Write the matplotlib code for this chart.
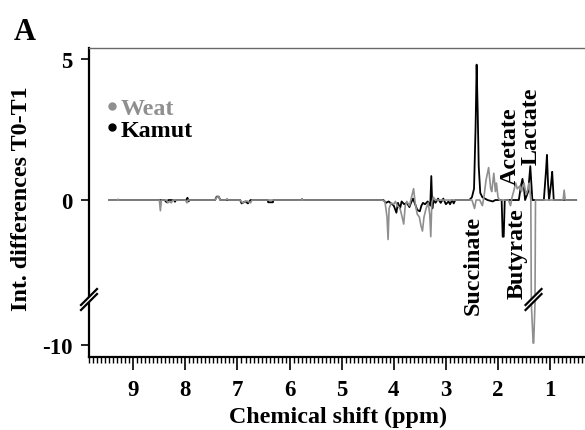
import numpy as np
import matplotlib
matplotlib.use('Agg')
from matplotlib import pyplot as plt
from matplotlib.patches import Polygon
from matplotlib.lines import Line2D
from matplotlib.ticker import FixedLocator, MultipleLocator

plt.rcParams['font.family'] = ['Liberation Serif', 'DejaVu Serif']
plt.rcParams['font.weight'] = 'bold'
plt.rcParams['axes.unicode_minus'] = False

# Kamut (black) spectrum vertices: ppm, intensity
kamut_ppm = [9.46, 8.40, 8.36, 8.33, 8.22, 8.20, 8.18, 7.98, 7.96, 7.94, 7.92, 7.43, 7.40, 7.36, 7.33,
             6.95, 6.92, 6.85, 6.80, 6.75, 6.42, 6.41, 6.32, 6.31, 5.77, 5.76, 5.75,
             4.20, 4.15, 4.10, 4.05, 4.00, 3.95, 3.92, 3.88, 3.85, 3.80, 3.75, 3.70, 3.67, 3.63, 3.60,
             3.55, 3.50, 3.47, 3.44, 3.40, 3.35, 3.30, 3.28, 3.26, 3.24, 3.20, 3.15, 3.10, 3.05, 3.00,
             2.95, 2.92, 2.88, 2.85, 2.82,
             2.55, 2.50, 2.46, 2.43, 2.41, 2.39, 2.37, 2.34, 2.30, 2.25, 2.20, 2.10, 2.05,
             1.93, 1.91, 1.89, 1.87,
             1.60, 1.56, 1.53, 1.50, 1.48, 1.42, 1.38, 1.36, 1.34,
             1.12, 1.08, 1.06, 1.04, 1.02, 0.98, 0.96, 0.93, 0.50]
kamut_int = [0, 0, -0.08, 0, 0, -0.06, 0, 0, 0.08, -0.05, 0, 0, 0.12, 0.12, 0,
             0, -0.12, -0.05, -0.12, 0, 0, -0.08, -0.08, 0, 0, 0.03, 0,
             0, -0.1, -0.05, -0.12, -0.2, -0.45, -0.1, -0.3, -0.05, -0.15, -0.1, -0.25, -0.1, 0.05, -0.1,
             -0.35, -0.4, -0.2, -0.1, -0.15, -0.05, -0.2, 0.85, -0.3, 0.0, -0.1, 0.05, -0.1, 0.05, -0.15,
             -0.05, -0.15, 0.0, -0.12, 0,
             0, 0.1, 0.4, 2.6, 4.8, 3.2, 1.2, 0.25, 0.1, 0.05, 0, -0.05, 0,
             0, -1.3, -1.3, 0,
             0, 0.5, 0.75, 0.4, 0, 0.3, 1.2, 0.6, 0,
             0, 1.0, 1.6, 0.6, 0, 0.6, 1.0, 0, 0]

# Weat (grey) spectrum vertices
weat_ppm = [9.46, 9.30, 9.29, 9.28, 8.50, 8.48, 8.46, 8.36, 8.34, 8.30, 8.27, 8.24, 8.00, 7.97, 7.95,
            7.43, 7.40, 7.36, 7.33, 7.22, 7.20, 7.18, 6.95, 6.90, 6.82, 6.75, 6.72, 5.77, 5.76, 5.75,
            4.22, 4.17, 4.13, 4.11, 4.09, 4.05, 4.00, 3.97, 3.93, 3.88, 3.84, 3.81, 3.78, 3.75, 3.70,
            3.66, 3.62, 3.59, 3.55, 3.51, 3.48, 3.45, 3.42, 3.38, 3.34, 3.31, 3.29, 3.27, 3.24, 3.20,
            2.50, 2.45, 2.42, 2.35, 2.30, 2.27, 2.23, 2.18, 2.14, 2.12, 2.08, 2.05, 2.03, 2.00, 1.97,
            1.80, 1.76, 1.73, 1.70, 1.66, 1.63, 1.58, 1.55, 1.50, 1.46, 1.42, 1.40, 1.38,
            1.37, 1.36, 1.325, 1.315, 1.29, 1.28, 1.25, 0.75, 0.73, 0.71, 0.50]
weat_int = [0, 0, 0.03, 0, 0, -0.38, 0, 0, -0.1, -0.05, -0.1, 0, 0, -0.1, 0,
            0, 0.1, 0.12, 0, 0, 0.05, 0, 0, -0.1, -0.03, -0.1, 0, 0, 0.05, 0,
            0, -0.05, -0.6, -1.4, -0.3, -0.1, -0.15, -0.05, -0.2, -0.3, -0.6, -0.85, -0.2, -0.05, -0.2,
            0.1, 0.4, -0.1, -0.5, -0.6, -0.9, -1.1, -0.6, -0.3, -0.1, -0.5, -1.3, -0.1, 0.1, 0,
            0, -0.3, 0, 0, -0.2, 0.1, 0.7, 1.15, 0.4, 0.3, 0.95, 0.3, 0.6, 0.1, 0,
            0, -0.2, 0.1, 0.3, 0.6, 0.4, 0.5, 0.3, 0.6, 0.2, 0.4, 0.6, 0.2,
            0, -3.8, -9.7, -9.7, -3.8, 0, 0, 0, 0.35, 0, 0]

labels = ['Succinate', 'Butyrate', 'Acetate', 'Lactate']
label_ppm = [2.47, 1.635, 1.77, 1.365]
label_y = [-2.27, -1.88, 1.95, 2.66]

# broken y axis: values below B are compressed by K
B, K = -3.65, 0.235


def fwd(y):
    y = np.asarray(y, dtype=float)
    return np.where(y >= B, y, B + (y - B) * K)


def inv(y):
    y = np.asarray(y, dtype=float)
    return np.where(y >= B, y, B + (y - B) / K)


grey = '#8f8f8f'
fs = 17.3
fig = plt.figure(figsize=(5.85, 4.31), dpi=100)
ax = fig.add_axes([89 / 585, 1 - 358 / 431, 496 / 585, 309 / 431])
ax.set_yscale('function', functions=(fwd, inv))

ax.plot(kamut_ppm, kamut_int, color='black', lw=1.3, zorder=3)
ax.plot(weat_ppm, weat_int, color=grey, lw=1.2, zorder=4)

ax.set_xlim(9.85, 0.33)
ax.set_ylim(-11.8, 5.39)

ax.xaxis.set_major_locator(FixedLocator([9, 8, 7, 6, 5, 4, 3, 2, 1]))
ax.xaxis.set_minor_locator(MultipleLocator(1 / 13))
ax.yaxis.set_major_locator(FixedLocator([5, 0, -10]))
ax.yaxis.set_minor_locator(FixedLocator([]))
ax.tick_params(axis='x', which='major', length=9.5, width=1.2, pad=6, labelsize=16.5)
ax.tick_params(axis='x', which='minor', length=4.3, width=1.0)
ax.tick_params(axis='y', which='major', length=6, width=1.2, pad=6, labelsize=16.5)

for s in ['left', 'bottom']:
    ax.spines[s].set_linewidth(1.6)
ax.spines['right'].set_visible(False)
ax.spines['top'].set_color('#6a6a6a')
ax.spines['top'].set_linewidth(1.0)

for t, xp, yp in zip(labels, label_ppm, label_y):
    ax.text(xp, yp, t, rotation=90, ha='center', va='center', fontsize=fs, zorder=6)

# legend
leg_handles = [Line2D([], [], ls='none', marker='o', ms=5, color=grey),
               Line2D([], [], ls='none', marker='o', ms=5, color='black')]
ax.legend(leg_handles, ['Weat', 'Kamut'], loc='upper left', bbox_to_anchor=(0.013, 0.88),
          frameon=False, handlelength=0.4, handletextpad=0.15, labelspacing=0.0,
          borderpad=0, prop={'size': fs, 'weight': 'bold'}, labelcolor=[grey, 'black'])


# break marks: two parallel slanted strokes with a white gap between them
def break_mark(cx, cy, w=8, h=8, gap=5):
    px = 1 / 496
    py = 1 / 309
    p = [(cx - w * px, cy - h * py), (cx + w * px, cy + h * py),
         (cx + w * px, cy + (h + gap) * py), (cx - w * px, cy - (h - gap) * py)]
    ax.add_patch(Polygon(p, closed=True, facecolor='white', edgecolor='none',
                         transform=ax.transAxes, clip_on=False, zorder=7))
    ax.add_line(Line2D([p[0][0], p[1][0]], [p[0][1], p[1][1]], color='black', lw=1.6,
                       transform=ax.transAxes, clip_on=False, zorder=8))
    ax.add_line(Line2D([p[3][0], p[2][0]], [p[3][1], p[2][1]], color='black', lw=1.6,
                       transform=ax.transAxes, clip_on=False, zorder=8))


yb = (358 - 303) / 309
break_mark(0, yb)
xb = (9.85 - 1.318) / (9.85 - 0.33)
break_mark(xb, yb)

fig.text(25 / 585, 1 - 32 / 431, 'A', fontsize=22, ha='center', va='center')
fig.text(22 / 585, 1 - 199 / 431, 'Int. differences T0-T1', rotation=90, fontsize=fs,
         ha='center', va='center')
fig.text(338 / 585, 1 - 417 / 431, 'Chemical shift (ppm)', fontsize=fs, ha='center', va='center')

fig.savefig('out.png', dpi=100)
